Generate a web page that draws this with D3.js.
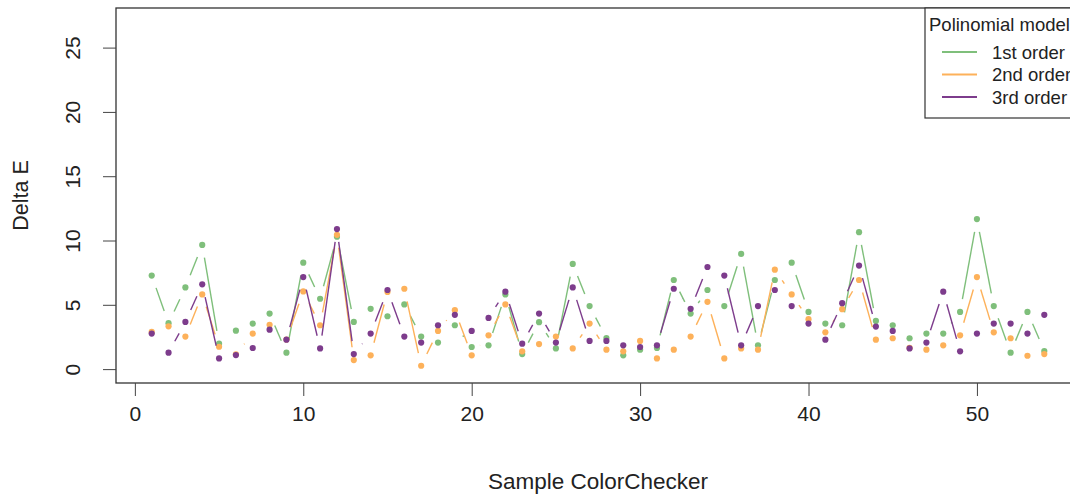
<!DOCTYPE html>
<html>
<head>
<meta charset="utf-8">
<script src="https://cdn.jsdelivr.net/npm/d3@7"></script>
<style>
  body { margin: 0; background: #fff; }
  svg { display: block; font-family: "Liberation Sans", Arial, sans-serif; }
  .axis text { fill: #222; font-size: 21px; }
  .axis line { stroke: #444; }
</style>
</head>
<body>
<svg width="1070" height="498"></svg>
<script>
// sample index 1..54
var samples = d3.range(1, 55);

var firstOrder = [7.27, 3.57, 6.35, 9.66, 1.98, 2.99, 3.54, 4.32, 1.28, 8.28,
  5.47, 10.3, 3.67, 4.69, 4.11, 5.03, 2.53, 2.06, 3.41, 1.72,
  1.85, 5.8, 1.17, 3.65, 1.61, 8.18, 4.90, 2.42, 1.07, 1.51,
  1.64, 6.93, 4.32, 6.15, 4.90, 8.96, 1.85, 6.93, 8.28, 4.45,
  3.54, 3.41, 10.65, 3.75, 3.41, 2.40, 2.76, 2.76, 4.45, 11.67,
  4.90, 1.28, 4.45, 1.41];

var secondOrder = [2.89, 3.33, 2.53, 5.81, 1.74, 1.15, 2.76, 3.44, 2.3, 6.04,
  3.41, 10.44, 0.70, 1.07, 6.0, 6.25, 0.26, 2.97, 4.58, 1.07,
  2.63, 5.03, 1.38, 1.95, 2.53, 1.61, 3.54, 1.51, 1.38, 2.19,
  0.83, 1.51, 2.53, 5.23, 0.83, 1.61, 1.51, 7.73, 5.81, 3.88,
  2.86, 4.66, 6.93, 2.29, 2.40, 1.65, 1.51, 1.85, 2.63, 7.16,
  2.86, 2.40, 1.04, 1.17];

var thirdOrder = [2.76, 1.28, 3.67, 6.59, 0.83, 1.09, 1.64, 3.07, 2.29, 7.16,
  1.61, 10.89, 1.17, 2.76, 6.15, 2.53, 2.06, 3.41, 4.22, 2.97,
  3.98, 6.02, 1.98, 4.32, 2.06, 6.35, 2.19, 2.19, 1.85, 1.72,
  1.85, 6.25, 4.69, 7.94, 7.27, 1.85, 4.90, 6.15, 4.90, 3.54,
  2.29, 5.13, 8.05, 3.31, 2.97, 1.61, 2.06, 6.02, 1.38, 2.76,
  3.54, 3.54, 2.76, 4.22];

var seriesNames = ["1st order", "2nd order", "3rd order"];
var seriesColors = ["#7fbf7b", "#fdb15a", "#7d3c8c"];
var xTicks = [0, 10, 20, 30, 40, 50];
var yTicks = [0, 5, 10, 15, 20, 25];

var series = [firstOrder, secondOrder, thirdOrder];

var svg = d3.select("svg");
var box = {left: 116, right: 1080, top: 8, bottom: 383};

var x = d3.scaleLinear()
  .domain([1 - 53 * 0.04, 54 + 53 * 0.04])
  .range([box.left, box.right]);

var y = d3.scaleLinear()
  .domain([-27 * 0.04, 27 * 1.04])
  .range([box.bottom, box.top]);

var gap = 13;   // type="b" leaves a gap round each point

series.forEach(function(vals, k){
  var g = svg.append("g").attr("class", "series");
  var pts = samples.map(function(s, i){ return [x(s), y(vals[i])]; });

  var segs = [];
  for (var i = 0; i < pts.length - 1; i++) {
    var dx = pts[i+1][0] - pts[i][0], dy = pts[i+1][1] - pts[i][1];
    var len = Math.sqrt(dx*dx + dy*dy);
    if (len > 2 * gap) {
      var ux = dx / len, uy = dy / len;
      segs.push([pts[i][0] + ux*gap, pts[i][1] + uy*gap,
                 pts[i+1][0] - ux*gap, pts[i+1][1] - uy*gap]);
    }
  }

  g.selectAll("line")
    .data(segs)
    .enter().append("line")
      .attr("x1", function(d){ return d[0]; })
      .attr("y1", function(d){ return d[1]; })
      .attr("x2", function(d){ return d[2]; })
      .attr("y2", function(d){ return d[3]; })
      .attr("stroke", seriesColors[k])
      .attr("stroke-width", 1.4);

  g.selectAll("circle")
    .data(pts)
    .enter().append("circle")
      .attr("cx", function(d){ return d[0]; })
      .attr("cy", function(d){ return d[1]; })
      .attr("r", 3.1)
      .attr("fill", seriesColors[k]);
});

// plot box
svg.append("rect")
  .attr("x", box.left).attr("y", box.top)
  .attr("width", box.right - box.left).attr("height", box.bottom - box.top)
  .attr("fill", "none").attr("stroke", "#333").attr("stroke-width", 1.3);

var xAxis = svg.append("g")
  .attr("class", "axis x")
  .attr("transform", "translate(0," + box.bottom + ")")
  .call(d3.axisBottom(x).tickValues(xTicks).tickSize(13).tickPadding(19));
xAxis.select(".domain").remove();
xAxis.selectAll("text").attr("dy", "0.3em");

var yAxis = svg.append("g")
  .attr("class", "axis y")
  .attr("transform", "translate(" + box.left + ",0)")
  .call(d3.axisLeft(y).tickValues(yTicks).tickSize(13));
yAxis.select(".domain").remove();
yAxis.selectAll("text")
  .attr("x", null).attr("dy", null)
  .attr("transform", "translate(-36,0) rotate(-90)")
  .style("text-anchor", "middle");

svg.append("text")
  .attr("x", (box.left + box.right) / 2)
  .attr("y", 489)
  .attr("text-anchor", "middle")
  .attr("fill", "#222")
  .style("font-size", "22.5px")
  .text("Sample ColorChecker");

svg.append("text")
  .attr("transform", "translate(28," + ((box.top + box.bottom) / 2) + ") rotate(-90)")
  .attr("text-anchor", "middle")
  .attr("fill", "#222")
  .style("font-size", "21.5px")
  .text("Delta E");

// legend, top right
var legend = svg.append("g");
legend.append("rect")
  .attr("x", 925).attr("y", box.top)
  .attr("width", box.right - 925).attr("height", 110)
  .attr("fill", "#fff").attr("stroke", "#333").attr("stroke-width", 1.2);

legend.append("text")
  .attr("x", 929).attr("y", 31)
  .attr("fill", "#222")
  .style("font-size", "18.5px")
  .text("Polinomial model");

seriesNames.forEach(function(name, k){
  var ly = 52 + k * 22.5;
  legend.append("line")
    .attr("x1", 942).attr("x2", 977)
    .attr("y1", ly).attr("y2", ly)
    .attr("stroke", seriesColors[k]).attr("stroke-width", 2);
  legend.append("text")
    .attr("x", 992).attr("y", ly + 6.5)
    .attr("fill", "#222")
    .style("font-size", "18.5px")
    .text(name);
});
</script>
</body>
</html>
